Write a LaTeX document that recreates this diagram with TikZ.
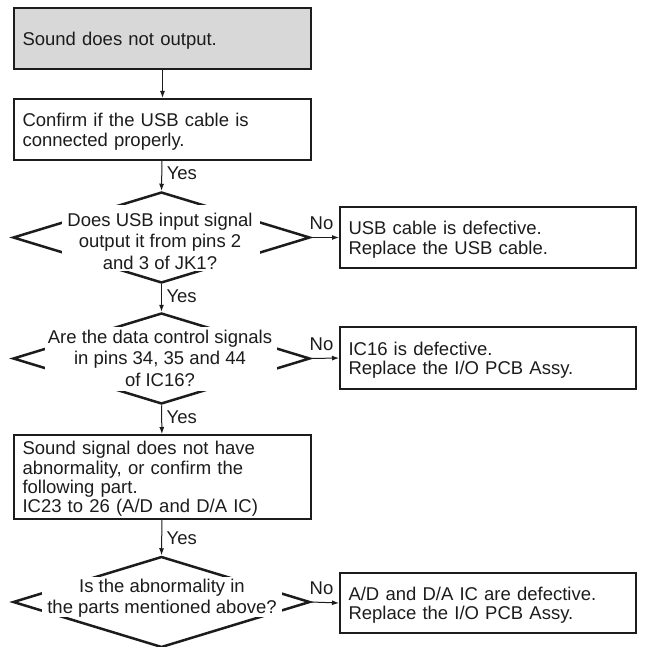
\documentclass[tikz,border=0pt]{standalone}
\usepackage{fontspec}
\setmainfont{Liberation Sans}
\usetikzlibrary{shapes.geometric,arrows.meta}
\definecolor{startgray}{RGB}{216,216,216}
\definecolor{inkblack}{RGB}{28,28,28}
\begin{document}
\begin{tikzpicture}[x=1pt,y=-1pt,
  every node/.style={font=\fontsize{18.5}{19.4}\selectfont, text=inkblack},
  stepbox/.style={draw=inkblack, line width=2pt, text width=280pt, align=left,
    inner xsep=8.5pt, inner ysep=0pt, execute at begin node={\rule{0pt}{17.5pt}}},
  startbox/.style={stepbox, fill=startgray},
  decision/.style={diamond, draw=inkblack, line width=2.5pt, minimum width=297pt,
    minimum height=91pt, inner sep=0pt},
  cover/.style={fill=white, inner sep=0pt},
  qtext/.style={align=center, inner sep=0pt, font=\fontsize{18.5}{21.5}\selectfont},
  flow/.style={draw=inkblack, line width=1pt, -{Latex[length=7pt,width=5pt]}},
  yeslbl/.style={anchor=west, inner sep=0pt, xshift=4.5pt},
  nolbl/.style={anchor=south, inner sep=0pt, yshift=7pt}
]
\useasboundingbox (0,0) rectangle (647,647);

% left column: start, checks and decisions
\node[startbox, minimum height=61pt] (start) at (162.5,38.5) {Sound does not output.};
\node[stepbox, minimum height=61pt] (usb) at (162.5,129.5)
  {Confirm if the USB cable is\\connected properly.};

\node[decision] (d1) at (161.5,237.5) {};
\node[cover, minimum width=198pt, minimum height=66pt] (c1) at (161,238) {};
\node[qtext] (q1) at (160,241)
  {Does USB input signal\\output it from pins 2\\and 3 of JK1?};

\node[decision] (d2) at (161.5,358.5) {};
\node[cover, minimum width=232pt, minimum height=64pt] (c2) at (161,359) {};
\node[qtext] (q2) at (160,358)
  {Are the data control signals\\in pins 34, 35 and 44\\of IC16?};

\node[stepbox, minimum height=84pt, execute at begin node={\rule{0pt}{14pt}}] (sig)
  at (162.5,477)
  {Sound signal does not have\\abnormality, or confirm the\\following part.\\IC23 to 26 (A/D and D/A IC)};

\node[decision] (d3) at (161.5,602) {};
\node[cover, minimum width=240pt, minimum height=40pt] (c3) at (162,597) {};
\node[qtext] (q3) at (162,598)
  {Is the abnormality in\\the parts mentioned above?};

% right column: results
\node[stepbox, text width=279pt, minimum height=61pt] (r1) at (488,237.5)
  {USB cable is defective.\\Replace the USB cable.};
\node[stepbox, text width=279pt, minimum height=62pt] (r2) at (488,358)
  {IC16 is defective.\\Replace the I/O PCB Assy.};
\node[stepbox, text width=279pt, minimum height=60pt] (r3) at (488,603)
  {A/D and D/A IC are defective.\\Replace the I/O PCB Assy.};

% connectors
\draw[flow] (start) -- (usb);
\draw[flow] (usb) -- node[yeslbl, pos=0.42] {Yes} (d1.north);
\draw[flow] (d1.south) -- node[yeslbl, pos=0.42] {Yes} (d2.north);
\draw[flow] (d2.south) -- node[yeslbl, pos=0.42] {Yes} (sig);
\draw[flow] (sig) -- node[yeslbl, pos=0.52] {Yes} (d3.north);

\draw[flow] (d1.east) -- node[nolbl, pos=0.37] {No} (r1.west);
\draw[flow] (d2.east) -- node[nolbl, pos=0.37] {No} (r2.west);
\draw[flow] (d3.east) -- node[nolbl, pos=0.37] {No} (r3.west);
\end{tikzpicture}
\end{document}
